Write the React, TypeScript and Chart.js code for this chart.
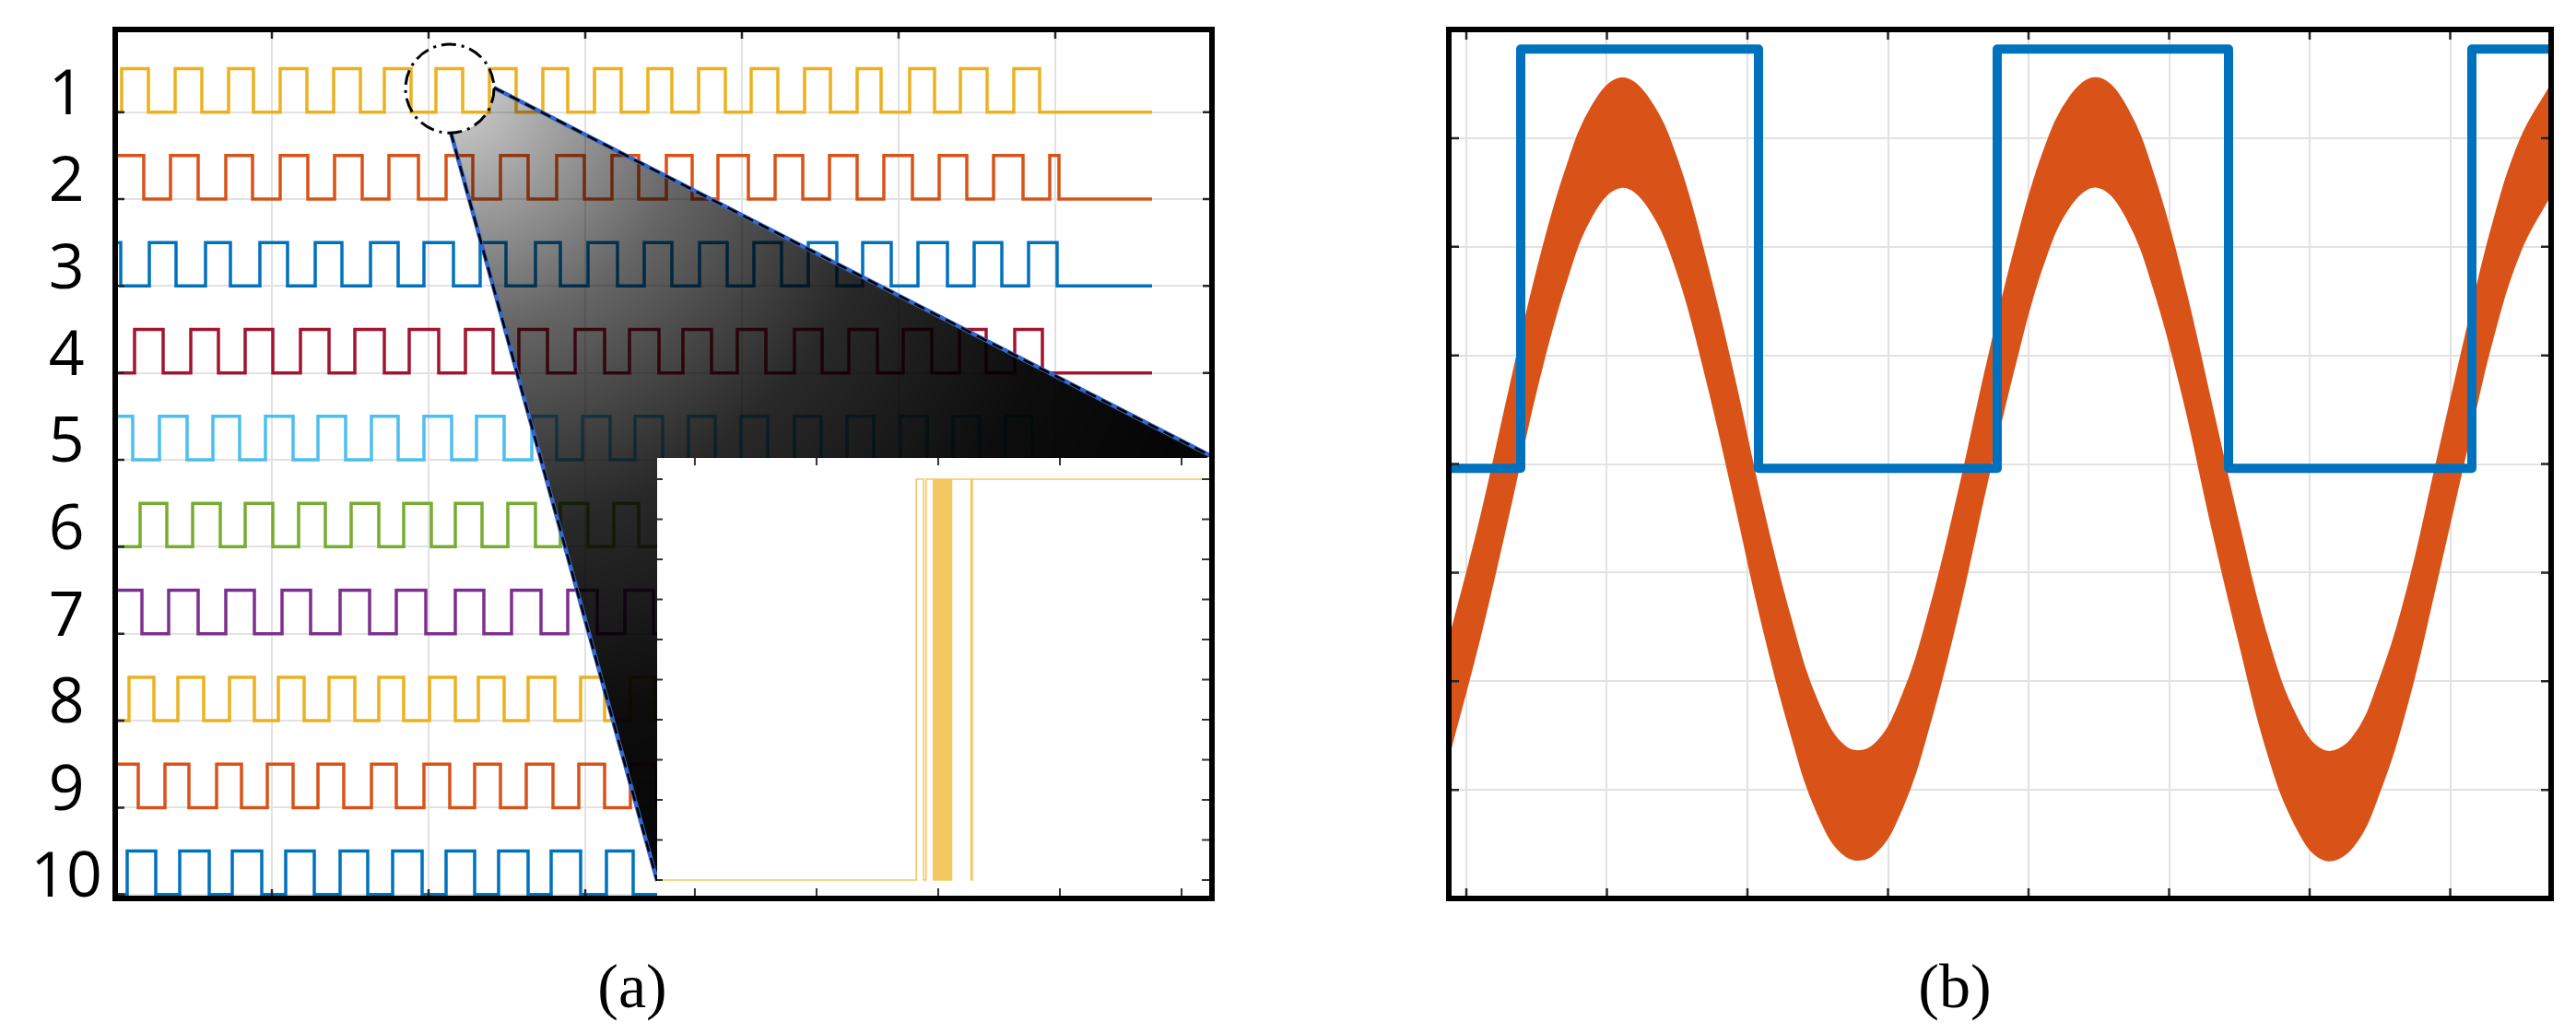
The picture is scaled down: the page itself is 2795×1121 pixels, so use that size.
import React, { useEffect, useRef } from "react";
import { Chart, registerables } from "chart.js";
Chart.register(...registerables);

// ---------------- Panel (a): ten pulse trains ----------------
const rowLabels = ["1", "2", "3", "4", "5", "6", "7", "8", "9", "10"];
const rowColors = ["#EDB120", "#D95319", "#0072BD", "#A2142F", "#4DBEEE", "#77AC30", "#7E2F8E", "#EDB120", "#D95319", "#0072BD"];
const rowStartHigh = [false, true, true, false, true, false, true, false, true, false];
const rowStartX = [2, 2, 2, 2, 2, 2, 2, 2, 2, 2];
const rowEndX = [1125, 1125, 1125, 1125, 1125, 1125, 1125, 1125, 1125, 1125];
const rowPulseHeight = 0.5;
const row1Edges = [7, 36, 65, 94, 123, 150, 179, 208, 237, 266, 292, 321, 348, 377, 406, 435, 464, 491, 520, 549, 578, 604, 633, 662, 690, 719, 748, 776, 805, 831, 862, 889, 917, 946, 975, 1003];
const row2Edges = [31, 60, 90, 120, 149, 179, 209, 238, 268, 297, 329, 359, 388, 418, 448, 479, 509, 539, 568, 598, 626, 654, 687, 716, 746, 775, 805, 834, 865, 894, 924, 953, 985, 1014, 1024];
const row3Edges = [6, 37, 66, 98, 125, 157, 187, 217, 246, 277, 307, 335, 367, 396, 424, 456, 483, 513, 545, 574, 604, 634, 664, 693, 723, 752, 783, 811, 842, 871, 903, 932, 962, 991, 1022];
const row4Edges = [21, 52, 82, 112, 141, 171, 201, 232, 260, 292, 319, 351, 380, 410, 438, 469, 499, 531, 558, 590, 616, 647, 675, 706, 737, 767, 796, 827, 855, 886, 916, 945, 976, 1006];
const row5Edges = [19, 48, 78, 106, 135, 163, 193, 220, 250, 278, 307, 335, 365, 392, 422, 452, 479, 507, 537, 564, 594, 622, 651, 679, 708, 737, 766, 794, 823, 852, 881, 909, 938, 966, 995];
const row6Edges = [27, 56, 84, 114, 141, 171, 199, 228, 256, 286, 313, 343, 369, 398, 426, 456, 483, 513, 541, 568, 598, 627, 655, 684, 712, 741, 769, 798, 826, 855, 883, 912, 941, 970];
const row7Edges = [29, 58, 90, 120, 151, 181, 212, 244, 276, 305, 337, 369, 400, 430, 462, 491, 523, 553, 584, 615, 646, 677, 708, 739, 770, 800, 831, 862, 893, 924, 955, 986, 1017];
const row8Edges = [15, 42, 68, 96, 124, 151, 177, 205, 232, 260, 286, 313, 341, 369, 394, 422, 448, 477, 505, 531, 559, 586, 613, 640, 668, 695, 722, 749, 776, 803, 830, 857, 884, 911, 938, 965];
const row9Edges = [25, 54, 80, 110, 137, 165, 193, 220, 248, 278, 305, 335, 363, 390, 418, 446, 475, 503, 531, 559, 587, 615, 643, 671, 699, 727, 755, 783, 811, 839, 867, 895, 923, 951, 979];
const row10Edges = [13, 44, 70, 102, 127, 159, 185, 216, 244, 274, 301, 333, 359, 390, 416, 448, 473, 505, 533, 562, 590, 621, 648, 679, 706, 737, 764, 795, 822, 853];
const rowEdges = [row1Edges, row2Edges, row3Edges, row4Edges, row5Edges, row6Edges, row7Edges, row8Edges, row9Edges, row10Edges];
const aGridX = [0, 170, 340, 510, 680, 850, 1020, 1190];
const aRowBase = [0, 1, 2, 3, 4, 5, 6, 7, 8, 9];

// magnifier call-out (in panel (a) data units)
const lensCenter = [363, 9.27];
const lensRadius = [48, 0.51];
const calloutX = [411, 1188, 588, 364];
const calloutY = [9.28, 5.05, 0.157, 8.77];

// inset: zoomed edge of pulse train 1
const insetStartX = -0.31;
const insetEndX = 4.3;
const insetEdges = [1.82, 1.88, 1.9, 1.96, 1.97, 1.98, 1.99, 2.0, 2.01, 2.02, 2.03, 2.04, 2.05, 2.06, 2.07, 2.08, 2.09, 2.1, 2.11, 2.27, 2.28];
const insetLevels = [0, 10];
const insetTickX = [0, 1, 2, 3, 4];
const insetTickY = [0, 1, 2, 3, 4, 5, 6, 7, 8, 9, 10];

// ---------------- Panel (b): square wave and noisy sine ----------------
const bBlueEdges = [59, 317, 576, 827, 1091];
const bBlueLevels = [-0.04, 3.82];
const bOrangeX = [-19, 15, 46, 76, 107, 137, 168, 198, 229, 259, 290, 320, 351, 381, 412, 442, 473, 503, 534, 564, 595, 625, 656, 686, 717, 747, 778, 808, 839, 869, 900, 930, 961, 991, 1022, 1052, 1083, 1113, 1144, 1177];
const bOrangeUpper = [-1.64, -0.52, 0.65, 1.75, 2.68, 3.3, 3.55, 3.36, 2.79, 1.9, 0.81, -0.35, -1.4, -2.19, -2.61, -2.59, -2.14, -1.34, -0.27, 0.88, 1.97, 2.84, 3.39, 3.55, 3.27, 2.62, 1.67, 0.56, -0.59, -1.6, -2.32, -2.64, -2.53, -1.99, -1.13, -0.02, 1.13, 2.18, 2.99, 3.49];
const bOrangeLower = [-2.68, -1.58, -0.45, 0.69, 1.65, 2.3, 2.55, 2.36, 1.77, 0.84, -0.29, -1.43, -2.44, -3.21, -3.61, -3.59, -3.16, -2.38, -1.35, -0.2, 0.91, 1.82, 2.39, 2.55, 2.26, 1.59, 0.61, -0.54, -1.65, -2.64, -3.33, -3.64, -3.53, -3.01, -2.17, -1.1, 0.05, 1.14, 1.97, 2.49];
const bGridX = [0, 152.5, 305, 457.5, 610, 762.5, 915, 1067.5];
const bGridY = [-3, -2, -1, 0, 1, 2, 3];

// ---------------- helpers ----------------
function stepPoints(startX: number, endX: number, startHigh: boolean, edges: number[], lo: number, hi: number) {
  let high = startHigh;
  const pts = [{ x: startX, y: high ? hi : lo }];
  for (const e of edges) {
    high = !high;
    pts.push({ x: e, y: high ? hi : lo });
  }
  pts.push({ x: endX, y: high ? hi : lo });
  return pts;
}

function drawFrameTicks(ctx: any, ca: any, xs: any, ys: any, xt: number[], yt: number[], len: number, frameW: number) {
  ctx.save();
  ctx.strokeStyle = "#262626";
  ctx.lineWidth = 2.5;
  ctx.beginPath();
  for (const v of xt) {
    const p = xs.getPixelForValue(v);
    if (p <= ca.left + 2 || p >= ca.right - 2) continue;
    ctx.moveTo(p, ca.top);
    ctx.lineTo(p, ca.top + len);
    ctx.moveTo(p, ca.bottom);
    ctx.lineTo(p, ca.bottom - len);
  }
  for (const v of yt) {
    const p = ys.getPixelForValue(v);
    if (p <= ca.top + 2 || p >= ca.bottom - 2) continue;
    ctx.moveTo(ca.left, p);
    ctx.lineTo(ca.left + len, p);
    ctx.moveTo(ca.right, p);
    ctx.lineTo(ca.right - len, p);
  }
  ctx.stroke();
  if (frameW > 0) {
    ctx.strokeStyle = "#000";
    ctx.lineWidth = frameW;
    ctx.strokeRect(ca.left, ca.top, ca.right - ca.left, ca.bottom - ca.top);
  }
  ctx.restore();
}

const fixedTicks = (arr: number[]) => (s: any) => {
  s.ticks = arr.map((v) => ({ value: v }));
};

const GRID = "#e2e2e2";

const panelAPlugin = {
  id: "panelA",
  afterDraw(chart: any) {
    const { ctx, chartArea: ca, scales } = chart;
    const xs = scales.x;
    const ys = scales.y;
    const px = (v: number) => xs.getPixelForValue(v);
    const py = (v: number) => ys.getPixelForValue(v);
    const cx = px(lensCenter[0]);
    const cy = py(lensCenter[1]);
    const rx = Math.abs(px(lensCenter[0] + lensRadius[0]) - cx);
    const ry = Math.abs(py(lensCenter[1] + lensRadius[1]) - cy);
    const P = calloutX.map((x, i) => [px(x), py(calloutY[i])]);
    const a1 = Math.atan2((P[0][1] - cy) / ry, (P[0][0] - cx) / rx);
    const a4 = Math.atan2((P[3][1] - cy) / ry, (P[3][0] - cx) / rx);
    ctx.save();
    ctx.beginPath();
    ctx.rect(ca.left, ca.top, ca.width, ca.height);
    ctx.clip();
    // shaded call-out
    ctx.beginPath();
    ctx.moveTo(P[0][0], P[0][1]);
    ctx.lineTo(P[1][0], P[1][1]);
    ctx.lineTo(P[2][0], P[2][1]);
    ctx.lineTo(P[3][0], P[3][1]);
    ctx.ellipse(cx, cy, rx, ry, 0, a4, a1, true);
    ctx.closePath();
    const g = ctx.createRadialGradient(cx, cy, 0, cx, cy, 880);
    g.addColorStop(0, "rgba(0,0,0,0.2)");
    g.addColorStop(0.06, "rgba(0,0,0,0.26)");
    g.addColorStop(0.3, "rgba(0,0,0,0.6)");
    g.addColorStop(0.55, "rgba(0,0,0,0.84)");
    g.addColorStop(0.8, "rgba(0,0,0,0.95)");
    g.addColorStop(1, "rgba(0,0,0,0.98)");
    ctx.fillStyle = g;
    ctx.fill();
    // call-out edges
    const edges = [
      [P[0], P[1]],
      [P[3], P[2]],
    ];
    for (const [a, b] of edges) {
      ctx.beginPath();
      ctx.moveTo(a[0], a[1]);
      ctx.lineTo(b[0], b[1]);
      ctx.setLineDash([]);
      ctx.strokeStyle = "#3566cc";
      ctx.lineWidth = 4.5;
      ctx.stroke();
      ctx.setLineDash([12, 7]);
      ctx.strokeStyle = "#000";
      ctx.lineWidth = 2.5;
      ctx.stroke();
    }
    // dashed lens
    ctx.beginPath();
    ctx.ellipse(cx, cy, rx, ry, 0, 0, Math.PI * 2);
    ctx.setLineDash([16, 6, 3, 6]);
    ctx.strokeStyle = "#000";
    ctx.lineWidth = 3;
    ctx.stroke();
    ctx.setLineDash([]);
    ctx.restore();
    drawFrameTicks(ctx, ca, xs, ys, aGridX, aRowBase, 10, 6);
  },
};

const insetPlugin = {
  id: "inset",
  beforeDraw(chart: any) {
    const { ctx, width, height } = chart;
    ctx.save();
    ctx.fillStyle = "#fff";
    ctx.fillRect(0, 0, width, height);
    ctx.restore();
  },
  afterDraw(chart: any) {
    const { ctx, chartArea: ca, scales } = chart;
    ctx.save();
    ctx.strokeStyle = "#333";
    ctx.lineWidth = 2;
    ctx.beginPath();
    for (const v of insetTickX) {
      const p = scales.x.getPixelForValue(v);
      ctx.moveTo(p, ca.top);
      ctx.lineTo(p, ca.top + 8);
      ctx.moveTo(p, ca.bottom);
      ctx.lineTo(p, ca.bottom - 8);
    }
    for (const v of insetTickY) {
      const p = scales.y.getPixelForValue(v);
      ctx.moveTo(ca.left, p);
      ctx.lineTo(ca.left + 6, p);
      ctx.moveTo(ca.right, p);
      ctx.lineTo(ca.right - 8, p);
    }
    ctx.stroke();
    ctx.restore();
  },
};

const panelBPlugin = {
  id: "panelB",
  afterDraw(chart: any) {
    const { ctx, chartArea: ca, scales } = chart;
    drawFrameTicks(ctx, ca, scales.x, scales.y, bGridX, bGridY, 11, 6);
  },
};

const baseOpts = {
  responsive: false,
  maintainAspectRatio: false,
  devicePixelRatio: 1,
  animation: false as const,
  events: [] as any[],
  plugins: { legend: { display: false }, tooltip: { enabled: false }, title: { display: false } },
  elements: { point: { radius: 0 } },
};

function makeChartA(canvas: HTMLCanvasElement) {
  const datasets = rowEdges.map((edges, i) => {
    const base = 9 - i;
    return {
      data: stepPoints(rowStartX[i], rowEndX[i], rowStartHigh[i], edges, base, base + rowPulseHeight),
      borderColor: rowColors[i],
      borderWidth: 3.5,
      stepped: true,
      fill: false,
      pointRadius: 0,
    };
  });
  return new Chart(canvas, {
    type: "line",
    data: { datasets },
    options: {
      ...baseOpts,
      layout: { padding: { left: 0, right: 25, top: 32, bottom: 25 } },
      scales: {
        x: {
          type: "linear",
          min: 0,
          max: 1190,
          afterBuildTicks: fixedTicks(aGridX),
          afterFit: (s: any) => {
            s.height = 0;
            s.paddingLeft = 0;
            s.paddingRight = 0;
          },
          ticks: { display: false },
          grid: { color: GRID, lineWidth: 2, drawTicks: false },
          border: { display: false },
        },
        y: {
          type: "linear",
          min: -0.045,
          max: 9.95,
          afterBuildTicks: fixedTicks(aRowBase),
          afterFit: (s: any) => {
            s.width = 125;
            s.paddingTop = 0;
            s.paddingBottom = 0;
          },
          ticks: {
            autoSkip: false,
            crossAlign: "center",
            padding: 14,
            labelOffset: -17,
            color: "#000",
            font: { family: '"Open Sans", "Noto Sans", sans-serif', size: 68 },
            callback: (v: any) => rowLabels[9 - Number(v)],
          },
          grid: { color: GRID, lineWidth: 2, drawTicks: false },
          border: { display: false },
        },
      },
    } as any,
    plugins: [panelAPlugin],
  });
}

function makeInset(canvas: HTMLCanvasElement) {
  return new Chart(canvas, {
    type: "line",
    data: {
      datasets: [
        {
          data: stepPoints(insetStartX, insetEndX, false, insetEdges, insetLevels[0], insetLevels[1]),
          borderColor: "rgba(237,177,32,0.7)",
          borderWidth: 1.6,
          stepped: true,
          fill: false,
          pointRadius: 0,
        },
      ],
    },
    options: {
      ...baseOpts,
      layout: { padding: 0 },
      scales: {
        x: { type: "linear", display: false, min: -0.31, max: 4.227 },
        y: { type: "linear", display: false, min: -0.39, max: 10.53 },
      },
    } as any,
    plugins: [insetPlugin],
  });
}

function makeChartB(canvas: HTMLCanvasElement) {
  const blue = stepPoints(bOrangeX[0], bOrangeX[bOrangeX.length - 1], false, bBlueEdges, bBlueLevels[0], bBlueLevels[1]);
  return new Chart(canvas, {
    type: "line",
    data: {
      datasets: [
        {
          data: blue,
          borderColor: "#0072BD",
          borderWidth: 10,
          borderJoinStyle: "round",
          stepped: true,
          fill: false,
          pointRadius: 0,
        },
        {
          data: bOrangeX.map((x, i) => ({ x, y: bOrangeLower[i] })),
          borderColor: "#D95319",
          borderWidth: 2,
          tension: 0.4,
          fill: false,
          pointRadius: 0,
        },
        {
          data: bOrangeX.map((x, i) => ({ x, y: bOrangeUpper[i] })),
          borderColor: "#D95319",
          backgroundColor: "#D95319",
          borderWidth: 2,
          tension: 0.4,
          fill: 1,
          pointRadius: 0,
        },
      ],
    },
    options: {
      ...baseOpts,
      layout: { padding: { left: 32, right: 27, top: 32, bottom: 25 } },
      scales: {
        x: {
          type: "linear",
          min: -19,
          max: 1177,
          afterBuildTicks: fixedTicks(bGridX),
          afterFit: (s: any) => {
            s.height = 0;
          },
          ticks: { display: false },
          grid: { color: GRID, lineWidth: 2, drawTicks: false },
          border: { display: false },
        },
        y: {
          type: "linear",
          min: -4,
          max: 4,
          afterBuildTicks: fixedTicks(bGridY),
          afterFit: (s: any) => {
            s.width = 0;
          },
          ticks: { display: false },
          grid: { color: GRID, lineWidth: 2, drawTicks: false },
          border: { display: false },
        },
      },
    } as any,
    plugins: [panelBPlugin],
  });
}

const LAYOUT = {
  a: { left: 0, top: 0, w: 1340, h: 1000 },
  inset: { left: 713, top: 497, w: 599, h: 475 },
  b: { left: 1540, top: 0, w: 1255, h: 1000 },
};

export default function App() {
  const aRef = useRef<HTMLCanvasElement>(null);
  const iRef = useRef<HTMLCanvasElement>(null);
  const bRef = useRef<HTMLCanvasElement>(null);

  useEffect(() => {
    const ca = makeChartA(aRef.current!);
    const ci = makeInset(iRef.current!);
    const cb = makeChartB(bRef.current!);
    return () => {
      ca.destroy();
      ci.destroy();
      cb.destroy();
    };
  }, []);

  const cv = (r: any, L: any) => (
    <canvas
      ref={r}
      width={L.w}
      height={L.h}
      style={{ position: "absolute", left: L.left, top: L.top, width: L.w, height: L.h }}
    />
  );

  const caption = (text: string, cx: number) => (
    <div
      style={{
        position: "absolute",
        left: cx - 100,
        top: 1025,
        width: 200,
        textAlign: "center",
        fontFamily: '"Liberation Serif", "DejaVu Serif", serif',
        fontSize: 68,
        lineHeight: "90px",
        color: "#000",
      }}
    >
      {text}
    </div>
  );

  return (
    <div style={{ position: "absolute", left: 0, top: 0, width: 2795, height: 1121, background: "#fff", overflow: "hidden" }}>
      {cv(aRef, LAYOUT.a)}
      {cv(iRef, LAYOUT.inset)}
      {cv(bRef, LAYOUT.b)}
      {caption("(a)", 686)}
      {caption("(b)", 2121)}
    </div>
  );
}
